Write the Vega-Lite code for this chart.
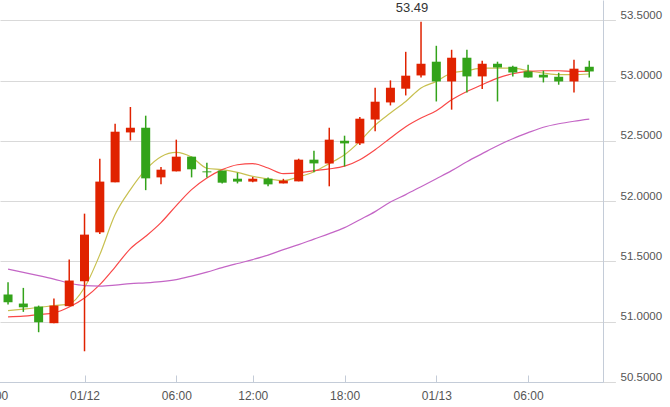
{
  "$schema": "https://vega.github.io/schema/vega-lite/v6.json",
  "width": 603,
  "height": 382,
  "autosize": "none",
  "padding": {"left": 0, "top": 0, "right": 67, "bottom": 25},
  "background": "white",
  "config": {"view": {"stroke": null}, "font": "Liberation Sans"},
  "data": {"values": [
    {"t":"01/11 19:00","i":0,"open":51.226,"high":51.328,"low":51.143,"close":51.162,"ma5":51.093,"ma10":51.041,"ma20":51.437},
    {"t":"01/11 20:00","i":1,"open":51.151,"high":51.281,"low":51.082,"close":51.120,"ma5":51.105,"ma10":51.046,"ma20":51.410},
    {"t":"01/11 21:00","i":2,"open":51.126,"high":51.134,"low":50.913,"close":50.996,"ma5":51.118,"ma10":51.060,"ma20":51.383},
    {"t":"01/11 22:00","i":3,"open":50.988,"high":51.192,"low":50.988,"close":51.134,"ma5":51.134,"ma10":51.074,"ma20":51.354},
    {"t":"01/11 23:00","i":4,"open":51.129,"high":51.516,"low":51.129,"close":51.342,"ma5":51.148,"ma10":51.122,"ma20":51.321},
    {"t":"01/12 00:00","i":5,"open":51.336,"high":51.897,"low":50.755,"close":51.723,"ma5":51.284,"ma10":51.197,"ma20":51.300},
    {"t":"01/12 01:00","i":6,"open":51.742,"high":52.353,"low":51.729,"close":52.163,"ma5":51.557,"ma10":51.308,"ma20":51.296},
    {"t":"01/12 02:00","i":7,"open":52.157,"high":52.643,"low":52.157,"close":52.577,"ma5":51.889,"ma10":51.454,"ma20":51.304},
    {"t":"01/12 03:00","i":8,"open":52.571,"high":52.782,"low":52.505,"close":52.610,"ma5":52.096,"ma10":51.607,"ma20":51.317},
    {"t":"01/12 04:00","i":9,"open":52.610,"high":52.710,"low":52.092,"close":52.190,"ma5":52.262,"ma10":51.709,"ma20":51.323},
    {"t":"01/12 05:00","i":10,"open":52.198,"high":52.284,"low":52.140,"close":52.262,"ma5":52.370,"ma10":51.823,"ma20":51.333},
    {"t":"01/12 06:00","i":11,"open":52.248,"high":52.511,"low":52.248,"close":52.370,"ma5":52.405,"ma10":51.964,"ma20":51.350},
    {"t":"01/12 07:00","i":12,"open":52.370,"high":52.370,"low":52.198,"close":52.265,"ma5":52.366,"ma10":52.096,"ma20":51.379},
    {"t":"01/12 08:00","i":13,"open":52.248,"high":52.320,"low":52.198,"close":52.240,"ma5":52.274,"ma10":52.192,"ma20":51.412},
    {"t":"01/12 09:00","i":14,"open":52.254,"high":52.254,"low":52.148,"close":52.154,"ma5":52.262,"ma10":52.262,"ma20":51.449},
    {"t":"01/12 10:00","i":15,"open":52.187,"high":52.237,"low":52.148,"close":52.163,"ma5":52.240,"ma10":52.303,"ma20":51.483},
    {"t":"01/12 12:00","i":16,"open":52.163,"high":52.202,"low":52.157,"close":52.187,"ma5":52.206,"ma10":52.312,"ma20":51.516},
    {"t":"01/12 13:00","i":17,"open":52.187,"high":52.198,"low":52.124,"close":52.140,"ma5":52.185,"ma10":52.276,"ma20":51.553},
    {"t":"01/12 14:00","i":18,"open":52.148,"high":52.186,"low":52.148,"close":52.171,"ma5":52.171,"ma10":52.229,"ma20":51.599},
    {"t":"01/12 15:00","i":19,"open":52.165,"high":52.353,"low":52.165,"close":52.345,"ma5":52.202,"ma10":52.235,"ma20":51.640},
    {"t":"01/12 16:00","i":20,"open":52.345,"high":52.420,"low":52.240,"close":52.314,"ma5":52.245,"ma10":52.254,"ma20":51.686},
    {"t":"01/12 17:00","i":21,"open":52.313,"high":52.610,"low":52.124,"close":52.511,"ma5":52.312,"ma10":52.268,"ma20":51.731},
    {"t":"01/12 18:00","i":22,"open":52.502,"high":52.544,"low":52.289,"close":52.480,"ma5":52.386,"ma10":52.291,"ma20":51.781},
    {"t":"01/12 19:00","i":23,"open":52.480,"high":52.700,"low":52.466,"close":52.685,"ma5":52.497,"ma10":52.345,"ma20":51.847},
    {"t":"01/12 20:00","i":24,"open":52.678,"high":52.942,"low":52.580,"close":52.826,"ma5":52.631,"ma10":52.428,"ma20":51.914},
    {"t":"01/12 21:00","i":25,"open":52.820,"high":53.003,"low":52.795,"close":52.942,"ma5":52.732,"ma10":52.525,"ma20":51.993},
    {"t":"01/12 22:00","i":26,"open":52.934,"high":53.240,"low":52.878,"close":53.042,"ma5":52.828,"ma10":52.619,"ma20":52.055},
    {"t":"01/12 23:00","i":27,"open":53.044,"high":53.490,"low":53.027,"close":53.141,"ma5":52.940,"ma10":52.691,"ma20":52.121},
    {"t":"01/13 00:00","i":28,"open":53.158,"high":53.290,"low":52.828,"close":52.994,"ma5":52.994,"ma10":52.751,"ma20":52.187},
    {"t":"01/13 01:00","i":29,"open":52.994,"high":53.257,"low":52.760,"close":53.191,"ma5":53.064,"ma10":52.842,"ma20":52.254},
    {"t":"01/13 02:00","i":30,"open":53.191,"high":53.257,"low":52.903,"close":53.036,"ma5":53.083,"ma10":52.911,"ma20":52.328},
    {"t":"01/13 03:00","i":31,"open":53.036,"high":53.166,"low":52.931,"close":53.141,"ma5":53.104,"ma10":52.967,"ma20":52.395},
    {"t":"01/13 04:00","i":32,"open":53.141,"high":53.158,"low":52.828,"close":53.110,"ma5":53.105,"ma10":53.022,"ma20":52.461},
    {"t":"01/13 05:00","i":33,"open":53.116,"high":53.124,"low":53.036,"close":53.069,"ma5":53.104,"ma10":53.058,"ma20":52.519},
    {"t":"01/13 06:00","i":34,"open":53.077,"high":53.133,"low":53.027,"close":53.027,"ma5":53.083,"ma10":53.077,"ma20":52.569},
    {"t":"01/13 07:00","i":35,"open":53.050,"high":53.083,"low":52.986,"close":53.027,"ma5":53.064,"ma10":53.083,"ma20":52.614},
    {"t":"01/13 08:00","i":36,"open":53.033,"high":53.066,"low":52.967,"close":52.994,"ma5":53.050,"ma10":53.083,"ma20":52.643},
    {"t":"01/13 09:00","i":37,"open":52.994,"high":53.174,"low":52.903,"close":53.100,"ma5":53.050,"ma10":53.077,"ma20":52.664},
    {"t":"01/13 10:00","i":38,"open":53.116,"high":53.166,"low":53.027,"close":53.077,"ma5":53.056,"ma10":53.077,"ma20":52.681}
  ]},
  "encoding": {
    "x": {
      "field": "i", "type": "quantitative",
      "scale": {"domain": [-1.01, 38.57], "range": [-12.41, 603], "nice": false, "zero": false},
      "axis": {
        "title": null, "grid": false,
        "values": [-1, 5, 11, 16, 22, 28, 34],
        "labelExpr": "datum.value == -1 ? '18:00' : datum.value == 5 ? '01/12' : datum.value == 11 ? '06:00' : datum.value == 16 ? '12:00' : datum.value == 22 ? '18:00' : datum.value == 28 ? '01/13' : '06:00'",
        "labelFlush": false, "labelOverlap": false,
        "domainColor": "#c4ccd8", "tickColor": "#c4ccd8", "tickSize": -7,
        "labelColor": "#555555", "labelFontSize": 12, "labelPadding": 15
      }
    }
  },
  "layer": [
    {
      "mark": {"type": "line", "interpolate": "monotone", "strokeWidth": 1.2, "color": "#c8c050"},
      "encoding": {
        "y": {
          "field": "ma5", "type": "quantitative",
          "scale": {"domain": [50.5, 53.67], "nice": false, "zero": false},
          "axis": {
            "orient": "right", "title": null,
            "values": [50.5, 51, 51.5, 52, 52.5, 53, 53.5],
            "format": ".4f", "ticks": false,
            "gridColor": "#d9d9d9", "domainColor": "#c4ccd8",
            "labelColor": "#555555", "labelFontSize": 11.5,
            "labelPadding": 17, "labelBaseline": "bottom"
          }
        }
      }
    },
    {
      "mark": {"type": "line", "interpolate": "monotone", "strokeWidth": 1.2, "color": "#f94848"},
      "encoding": {"y": {"field": "ma10", "type": "quantitative"}}
    },
    {
      "mark": {"type": "line", "interpolate": "monotone", "strokeWidth": 1.2, "color": "#c466c6"},
      "encoding": {"y": {"field": "ma20", "type": "quantitative"}}
    },
    {
      "mark": {"type": "rule", "strokeWidth": 1.5},
      "encoding": {
        "y": {"field": "low", "type": "quantitative"},
        "y2": {"field": "high"},
        "color": {"condition": {"test": "datum.close >= datum.open", "value": "#e02200"}, "value": "#33a31a"}
      }
    },
    {
      "mark": {"type": "bar", "width": 9},
      "encoding": {
        "y": {"field": "open", "type": "quantitative"},
        "y2": {"field": "close"},
        "color": {"condition": {"test": "datum.close >= datum.open", "value": "#e02200"}, "value": "#33a31a"}
      }
    },
    {
      "transform": [{"filter": "datum.high == 53.49"}],
      "mark": {"type": "text", "dx": -9, "dy": -14, "fontSize": 13, "color": "#333333", "baseline": "middle"},
      "encoding": {
        "y": {"field": "high", "type": "quantitative"},
        "text": {"field": "high", "type": "quantitative", "format": ".2f"}
      }
    }
  ]
}
